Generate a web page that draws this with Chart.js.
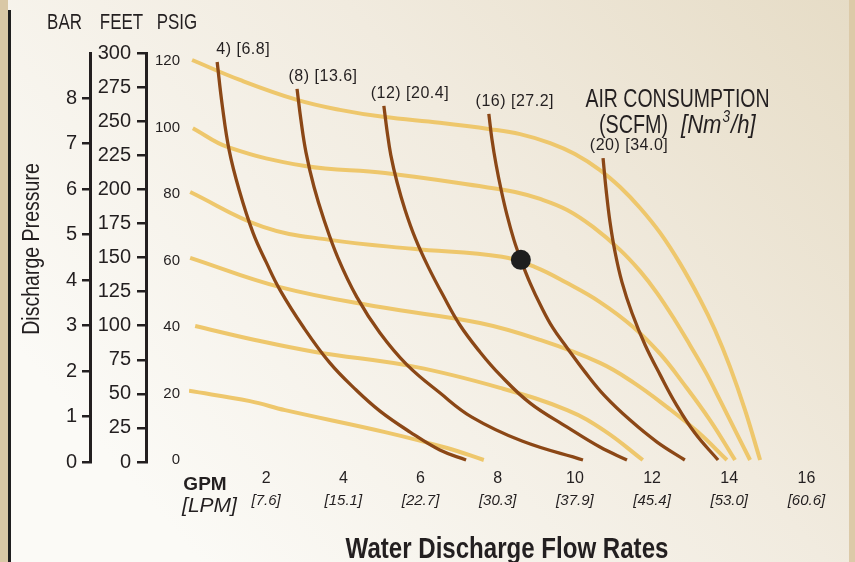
<!DOCTYPE html>
<html>
<head>
<meta charset="utf-8">
<script src="https://cdn.jsdelivr.net/npm/chart.js@4.4.1/dist/chart.umd.min.js"></script>
<style>
  html,body{margin:0;padding:0;background:#f3eee4;}
  canvas{display:block;}
</style>
</head>
<body>
<canvas id="pumpCurve" width="855" height="562"></canvas>
<script>
/* ============================================================
   Pump performance curve: flow vs discharge pressure
   ============================================================ */

const FONT = "'Liberation Sans', Arial, Helvetica, sans-serif";
const INK = '#231f20';
const COLORS = {
  flow: '#eec76c',
  air:  '#8b4716',
  dot:  '#1e1e1e'
};

/* ---------------- axis ticks ---------------- */
const gpmTicks  = [2, 4, 6, 8, 10, 12, 14, 16];
const lpmLabels = ['[7.6]', '[15.1]', '[22.7]', '[30.3]', '[37.9]', '[45.4]', '[53.0]', '[60.6]'];
const psigTicks = [0, 20, 40, 60, 80, 100, 120];
const feetTicks = [0, 25, 50, 75, 100, 125, 150, 175, 200, 225, 250, 275, 300];
const barTicks  = [0, 1, 2, 3, 4, 5, 6, 7, 8];

/* ---------------- flow curves, one per air inlet pressure: [gpm, psig] ---------------- */
const flow120 = [[0.08,120.3],[1.32,114.3],[2.80,108.3],[3.91,105.3],[5.03,103.2],[6.50,101.4],[7.80,99.5],[8.58,98.0],[9.36,95.3],[10.00,92.0],[10.65,87.2],[11.17,82.1],[11.69,75.8],[12.21,68.3],[12.72,59.2],[13.24,48.4],[13.63,39.1],[14.02,28.0],[14.41,15.0],[14.80,0]];
const flow100 = [[0.10,99.8],[1.01,94.1],[3.01,88.4],[5.08,86.3],[7.67,82.1],[8.45,80.6],[9.10,78.5],[9.80,75.2],[10.47,70.1],[11.17,63.2],[11.69,56.8],[12.13,50.2],[12.59,42.1],[12.98,34.6],[13.40,26.2],[13.76,18.0],[14.15,9.0],[14.54,0]];
const flow80  = [[0.03,80.6],[1.92,70.1],[3.65,66.2],[5.80,63.5],[8.11,61.1],[8.97,58.0],[9.80,53.2],[10.65,47.5],[11.51,40.0],[12.21,31.9],[12.80,23.2],[13.50,12.0],[14.15,0]];
const flow60  = [[0.03,60.8],[2.36,52.0],[4.95,46.0],[7.54,41.2],[9.10,36.1],[10.65,29.2],[11.53,23.2],[12.39,15.9],[13.19,8.4],[13.94,0]];
const flow40  = [[0.16,40.3],[1.71,36.1],[3.27,32.5],[5.86,28.0],[8.06,21.7],[9.80,15.0],[10.78,8.7],[11.76,0]];
const flow20  = [[0.00,20.8],[1.58,17.7],[2.49,15.0],[5.08,8.4],[6.69,3.6],[7.64,0]];

/* ---------------- air consumption curves (SCFM) ---------------- */
const air4  = [[0.73,119.7],[0.86,106.8],[1.04,93.2],[1.30,81.2],[1.66,68.3],[2.00,59.5],[2.36,51.1],[2.98,39.7],[3.65,29.2],[4.30,21.4],[4.95,14.7],[5.73,8.4],[6.50,3.0],[7.18,0]];
const air8  = [[2.80,111.6],[2.90,102.3],[3.03,92.6],[3.24,82.1],[3.50,72.2],[3.86,60.8],[4.35,49.0],[4.95,38.2],[5.65,28.6],[6.50,20.2],[7.33,12.9],[8.63,5.7],[10.21,0]];
const air12 = [[5.05,106.5],[5.13,99.2],[5.23,91.7],[5.39,83.6],[5.60,75.2],[5.86,66.8],[6.19,58.3],[6.58,49.6],[7.02,40.6],[7.54,32.5],[8.06,25.6],[8.84,17.1],[9.80,9.9],[10.65,3.9],[11.35,0]];
const air16 = [[7.77,104.1],[7.85,96.5],[7.96,88.7],[8.09,81.2],[8.24,73.7],[8.42,66.2],[8.60,60.2],[8.84,53.2],[9.12,46.3],[9.43,39.7],[9.80,33.7],[10.26,26.5],[10.78,19.2],[11.43,12.0],[12.13,5.4],[12.85,0]];
const air20 = [[10.73,90.8],[10.81,81.2],[10.91,71.6],[11.04,62.6],[11.22,53.5],[11.48,44.2],[11.82,34.6],[12.21,25.6],[12.62,16.8],[13.11,8.1],[13.71,0]];
const airLabels = ['4) [6.8]', '(8) [13.6]', '(12) [20.4]', '(16) [27.2]', '(20) [34.0]'];

/* operating point */
const opPoint = [[8.6, 60.2]];

const toXY = pts => pts.map(([x, y]) => ({ x, y }));
const airSeries = [air4, air8, air12, air16, air20];

const flowSets = [flow120, flow100, flow80, flow60, flow40, flow20].map(d => ({
  data: toXY(d),
  showLine: true,
  borderColor: COLORS.flow,
  borderWidth: 4,
  pointRadius: 0,
  tension: 0.4,
  order: 3
}));

const airSets = airSeries.map(d => ({
  data: toXY(d),
  showLine: true,
  borderColor: COLORS.air,
  borderWidth: 3.3,
  pointRadius: 0,
  tension: 0.4,
  order: 2
}));

const dotSet = {
  data: toXY(opPoint),
  showLine: false,
  pointRadius: 10,
  pointBackgroundColor: COLORS.dot,
  pointBorderWidth: 0,
  order: 1
};

/* draw text with a horizontal squeeze (condensed face) */
function say(ctx, s, x, y, font, sx = 1, align = 'center') {
  ctx.save();
  ctx.font = font;
  ctx.fillStyle = INK;
  ctx.textAlign = align;
  ctx.textBaseline = 'middle';
  ctx.translate(x, y);
  ctx.scale(sx, 1);
  ctx.fillText(s, 0, 0);
  ctx.restore();
}

const decor = {
  id: 'decor',
  beforeDraw(chart) {
    const { ctx, width, height } = chart;
    const g = ctx.createLinearGradient(width, 0, 200, height);
    g.addColorStop(0, '#e6dcc6');
    g.addColorStop(0.45, '#f1ebdf');
    g.addColorStop(1, '#fbfaf6');
    ctx.save();
    ctx.fillStyle = g;
    ctx.fillRect(0, 0, width, height);
    ctx.fillStyle = '#d9c8a6';
    ctx.fillRect(0, 0, 8, height);
    ctx.fillStyle = '#dccaa8';
    ctx.fillRect(849, 0, width - 849, height);
    ctx.fillStyle = '#1f1f1f';
    ctx.fillRect(8, 10, 3, height - 10);
    ctx.restore();
  },
  afterDraw(chart) {
    const { ctx, scales } = chart;
    const sx = scales.x, sy = scales.y;

    /* axis headers */
    say(ctx, 'BAR', 64.5, 23, `22px ${FONT}`, 0.77);
    say(ctx, 'FEET', 121.5, 23, `22px ${FONT}`, 0.77);
    say(ctx, 'PSIG', 177, 23, `22px ${FONT}`, 0.77);

    /* vertical axis title */
    ctx.save();
    ctx.translate(33, 249);
    ctx.rotate(-Math.PI / 2);
    say(ctx, 'Discharge Pressure', 0, 0, `23px ${FONT}`, 0.85);
    ctx.restore();

    /* air consumption curve labels */
    ctx.save();
    ctx.letterSpacing = '0.5px';
    airSeries.forEach((d, i) => {
      const px = sx.getPixelForValue(d[0][0]);
      const py = sy.getPixelForValue(d[0][1]);
      say(ctx, airLabels[i], px + 26, py - 12, `16px ${FONT}`);
    });
    ctx.restore();

    /* legend title */
    say(ctx, 'AIR CONSUMPTION', 677.5, 100, `26px ${FONT}`, 0.75);
    say(ctx, '(SCFM)', 599, 126, `26px ${FONT}`, 0.76, 'left');
    ctx.save();
    ctx.font = `italic 26px ${FONT}`;
    const w1 = ctx.measureText('[Nm').width * 0.85;
    ctx.font = `italic 16px ${FONT}`;
    const w2 = ctx.measureText('3').width * 0.85;
    ctx.restore();
    say(ctx, '[Nm', 681, 126, `italic 26px ${FONT}`, 0.85, 'left');
    say(ctx, '3', 681 + w1 + 1, 118, `italic 16px ${FONT}`, 0.85, 'left');
    say(ctx, '/h]', 681 + w1 + w2 + 2, 126, `italic 26px ${FONT}`, 0.85, 'left');

    /* x axis units */
    say(ctx, 'GPM', 205, 485, `bold 19px ${FONT}`);
    say(ctx, '[LPM]', 209.5, 506, `italic 21px ${FONT}`);

    /* x axis title */
    say(ctx, 'Water Discharge Flow Rates', 507, 550, `bold 29px ${FONT}`, 0.83);
  }
};

const useTicks = values => scale => { scale.ticks = values.map(v => ({ value: v })); };

new Chart(document.getElementById('pumpCurve'), {
  type: 'scatter',
  data: { datasets: [...flowSets, ...airSets, dotSet] },
  options: {
    responsive: false,
    animation: false,
    layout: { padding: { left: 20, right: 10, top: 53, bottom: 0 } },
    plugins: { legend: { display: false }, tooltip: { enabled: false } },
    scales: {
      x: {
        type: 'linear', position: 'bottom', weight: 0, min: 0, max: 17,
        afterBuildTicks: useTicks(gpmTicks),
        afterFit: s => { s.height = 28; },
        grid: { display: false, drawTicks: false },
        border: { display: false },
        ticks: { autoSkip: false, maxRotation: 0, padding: 7, color: INK, font: { family: FONT, size: 16 } }
      },
      x2: {
        type: 'linear', position: 'bottom', weight: 1, min: 0, max: 17,
        afterBuildTicks: useTicks(gpmTicks),
        afterFit: s => { s.height = 72; },
        grid: { display: false, drawTicks: false },
        border: { display: false },
        ticks: {
          autoSkip: false, maxRotation: 0, padding: 2, color: INK,
          font: { family: FONT, size: 15, style: 'italic' },
          callback: (v, i) => lpmLabels[i]
        }
      },
      y: {
        type: 'linear', position: 'left', weight: 0, min: -0.6, max: 122.4,
        afterBuildTicks: useTicks(psigTicks),
        afterFit: s => { s.width = 43; },
        grid: { display: false, drawTicks: false },
        border: { display: false },
        ticks: { autoSkip: false, padding: 9, color: INK, font: { family: FONT, size: 15 } }
      },
      feet: {
        type: 'linear', position: 'left', weight: 1, min: 0, max: 300,
        afterBuildTicks: useTicks(feetTicks),
        afterFit: s => { s.width = 56; },
        grid: { display: true, drawOnChartArea: false, drawTicks: true, tickLength: 9, color: INK, lineWidth: 2.5 },
        border: { display: true, color: INK, width: 3 },
        ticks: { autoSkip: false, padding: 6, color: INK, font: { family: FONT, size: 20 } }
      },
      bar: {
        type: 'linear', position: 'left', weight: 2, min: 0, max: 8.99,
        afterBuildTicks: useTicks(barTicks),
        afterFit: s => { s.width = 70; },
        grid: { display: true, drawOnChartArea: false, drawTicks: true, tickLength: 8, color: INK, lineWidth: 2.5 },
        border: { display: true, color: INK, width: 3 },
        ticks: { autoSkip: false, padding: 5, color: INK, font: { family: FONT, size: 20 } }
      }
    }
  },
  plugins: [decor]
});
</script>
</body>
</html>
